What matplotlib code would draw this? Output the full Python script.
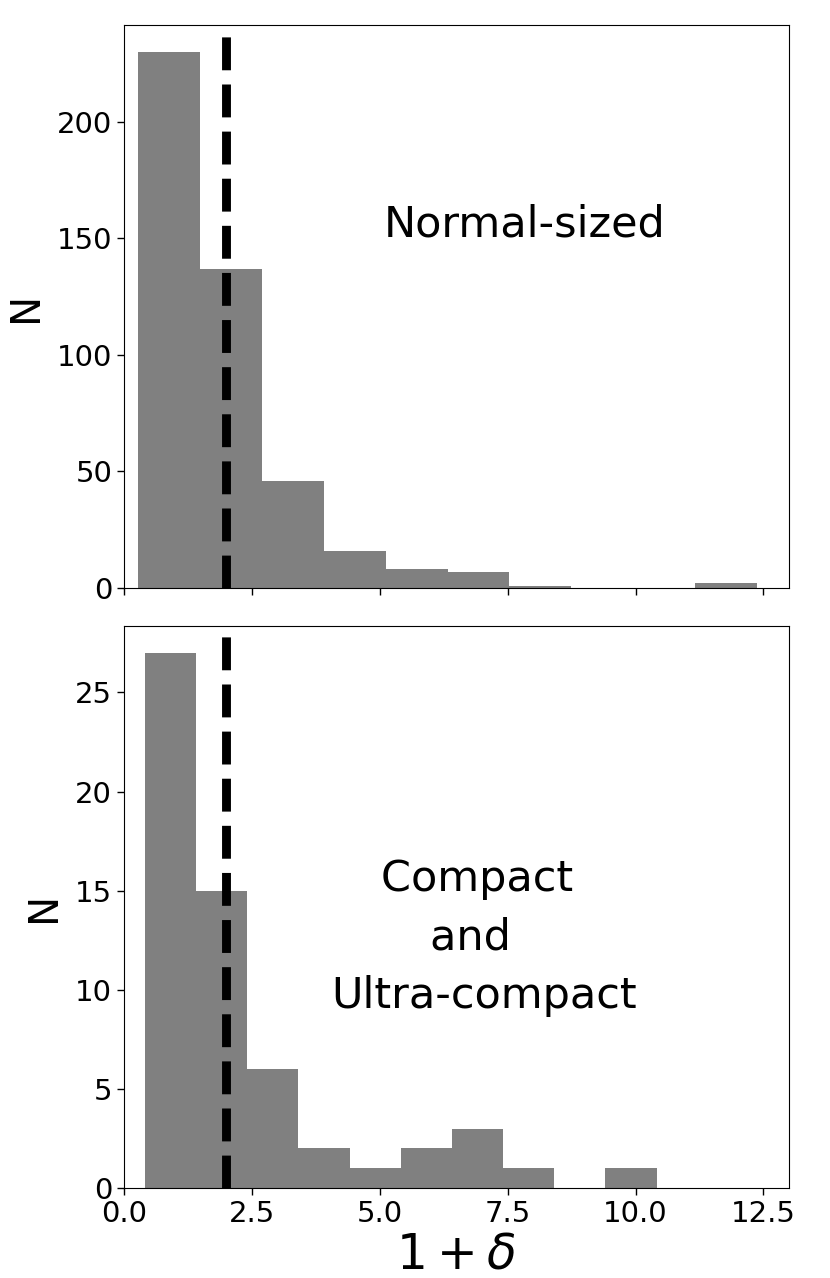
import matplotlib
matplotlib.use("Agg")
import matplotlib.pyplot as plt
import numpy as np

# Normal-sized galaxies histogram
normal_edges = [0.275, 1.485, 2.695, 3.905, 5.115, 6.325, 7.535, 8.745, 9.955, 11.165, 12.375]
normal_counts = [230, 137, 46, 16, 8, 7, 1, 0, 0, 2]

# Compact and ultra-compact galaxies histogram
compact_edges = [0.41, 1.41, 2.41, 3.41, 4.41, 5.41, 6.41, 7.41, 8.41, 9.41, 10.41]
compact_counts = [27, 15, 6, 2, 1, 2, 3, 1, 0, 1]

threshold = 2.0
x_ticks = [0.0, 2.5, 5.0, 7.5, 10.0, 12.5]
x_range = (0, 13)

fig = plt.figure(figsize=(8.3, 12.78), dpi=100)
ax1 = fig.add_axes([0.1494, 0.5399, 0.8012, 0.4405])
ax2 = fig.add_axes([0.1494, 0.0704, 0.8012, 0.4398], sharex=ax1)


def draw(ax, edges, counts):
    edges = np.asarray(edges)
    ax.hist(edges[:-1], bins=edges, weights=counts, color="grey")
    ax.axvline(threshold, color="black", linestyle="--", linewidth=6.4)
    ax.tick_params(axis="both", labelsize=21, length=5, width=1)
    ax.set_ylabel("N", fontsize=29, labelpad=8)


draw(ax1, normal_edges, normal_counts)
draw(ax2, compact_edges, compact_counts)

ax1.set_xlim(*x_range)
ax2.set_xticks(x_ticks)
ax1.tick_params(labelbottom=False)
ax2.set_xlabel(r"$1+\delta$", fontsize=35, labelpad=2)

ax1.text(0.603, 0.624, "Normal-sized", transform=ax1.transAxes,
         ha="center", va="baseline", fontsize=31)
ax2.text(0.541, 0.320, "Compact \nand  \nUltra-compact", transform=ax2.transAxes,
         ha="center", va="baseline", multialignment="center",
         fontsize=31, linespacing=1.5)

fig.savefig("out.png", dpi=100)
